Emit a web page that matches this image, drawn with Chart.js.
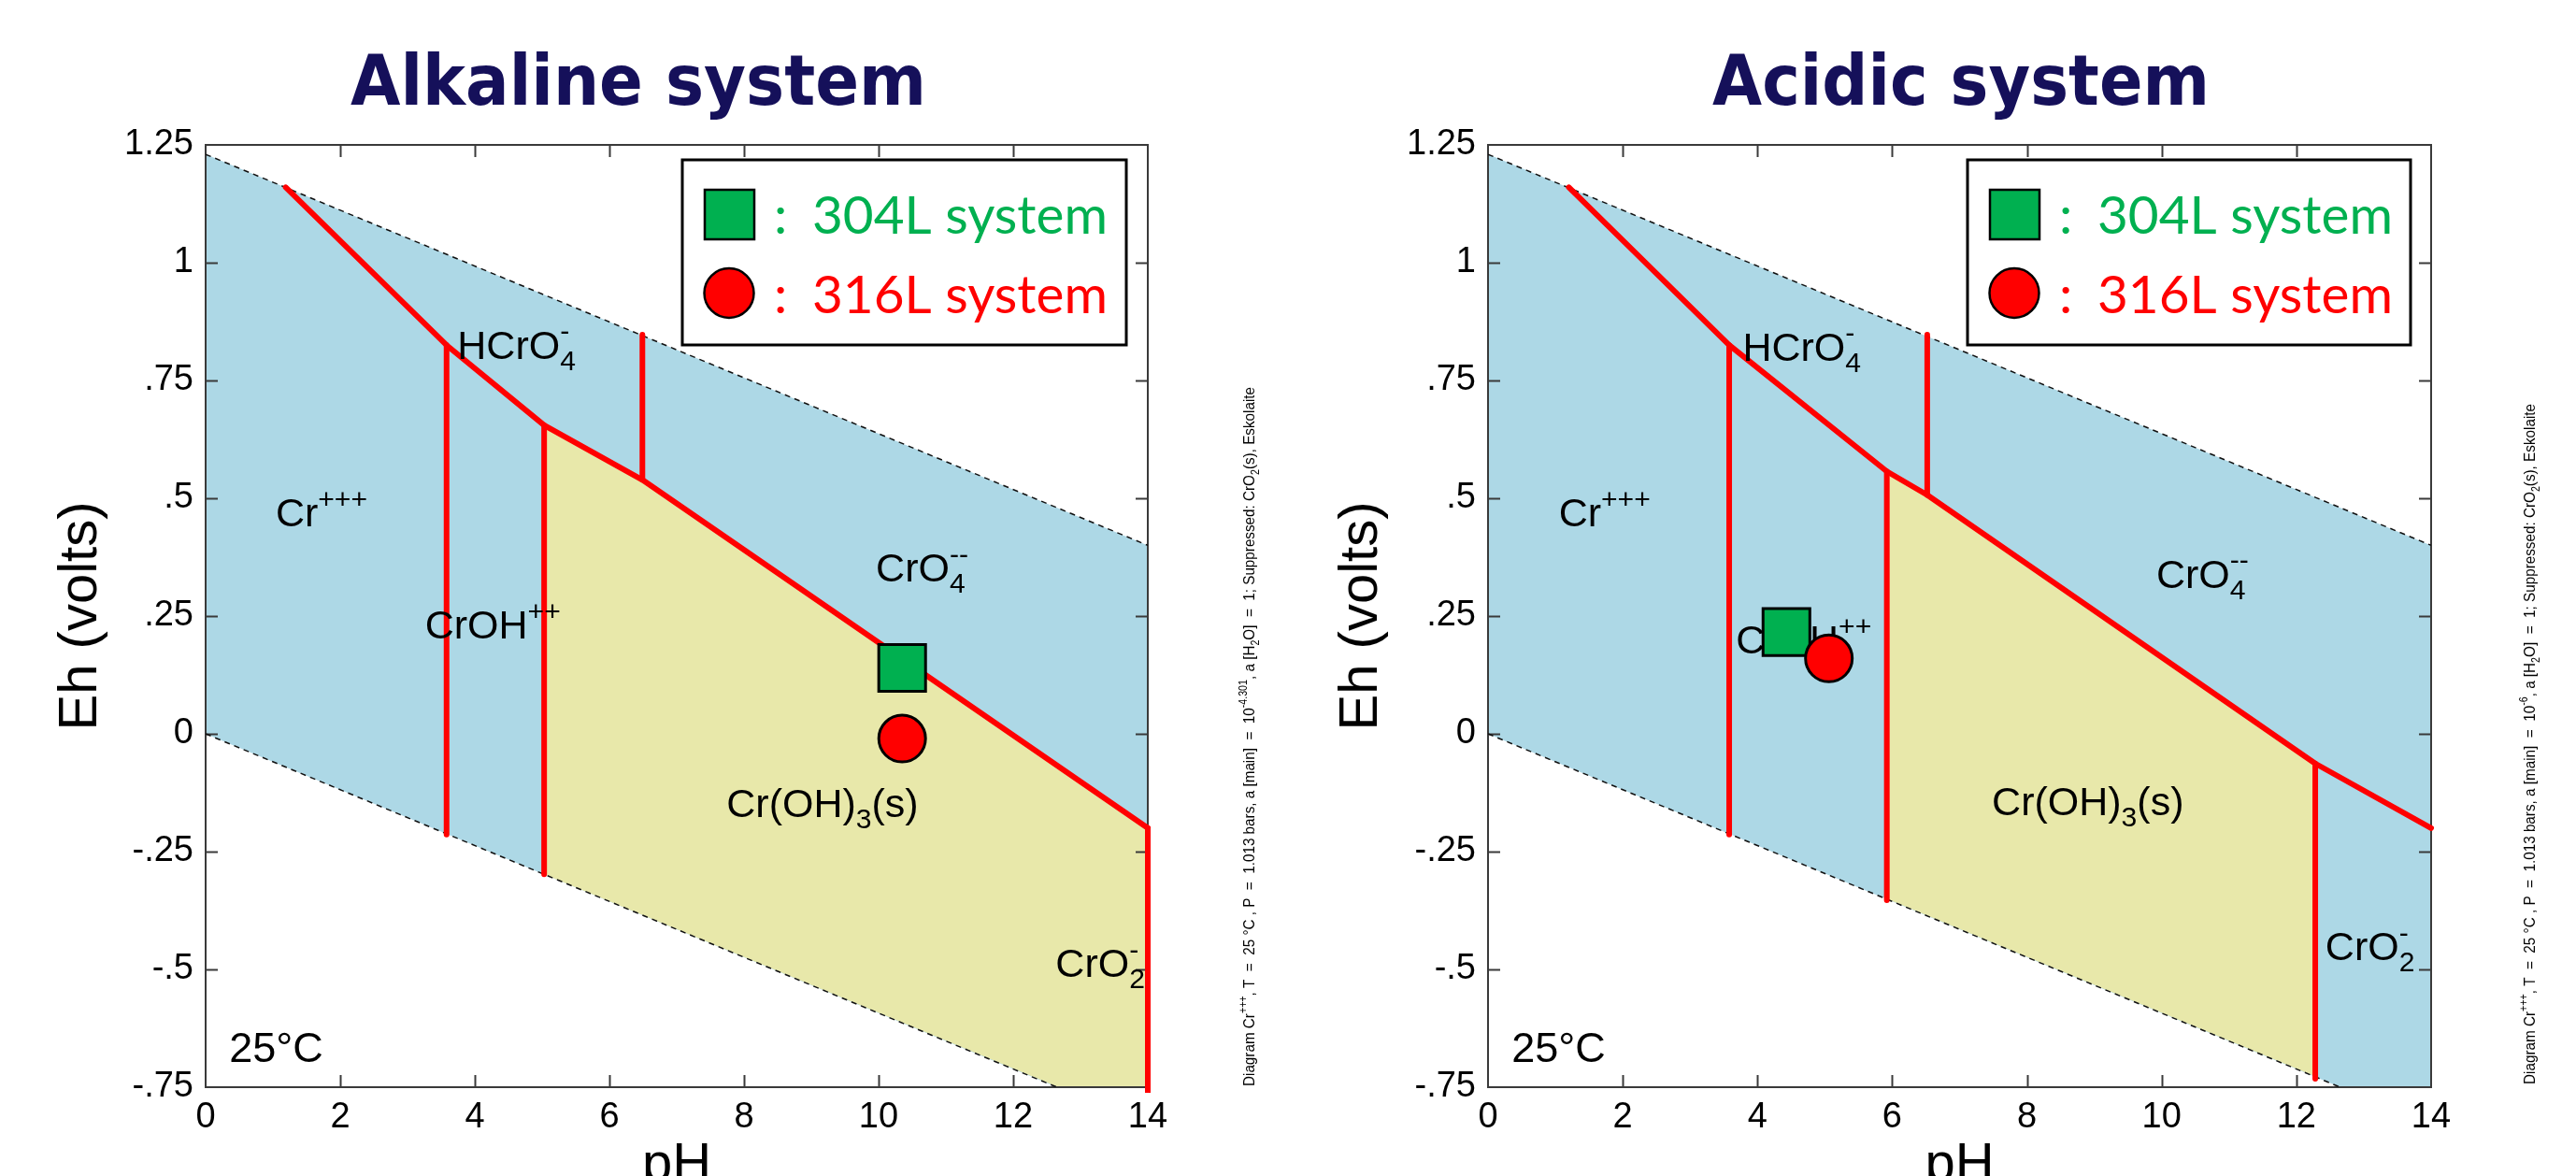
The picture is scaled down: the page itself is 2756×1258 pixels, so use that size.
<!DOCTYPE html>
<html>
<head>
<meta charset="utf-8">
<title>Cr Eh-pH diagrams</title>
<script src="https://cdn.jsdelivr.net/npm/chart.js@4.4.0/dist/chart.umd.min.js"></script>
<style>
  html, body { margin: 0; padding: 0; background: #fff; }
  .panel { position: absolute; top: 0; width: 1378px; height: 1258px; }
  #left { left: 0; }
  #right { left: 1378px; }
</style>
</head>
<body>
<div class="panel" id="left"><canvas id="alkChart"></canvas></div>
<div class="panel" id="right"><canvas id="acidChart"></canvas></div>
<script>
// axes
const phTicks = [0, 2, 4, 6, 8, 10, 12, 14];
const ehTicks = [-0.75, -0.5, -0.25, 0, 0.25, 0.5, 0.75, 1, 1.25];
const ehTickLabels = ['-.75', '-.5', '-.25', '0', '.25', '.5', '.75', '1', '1.25'];

// water stability limits (dashed lines)
const waterPH = [0, 14];
const waterUpperEh = [1.23, 0.40];
const waterLowerEh = [0, -0.83];

// species names: HCrO4-, Cr+++, CrO4--, CrOH++, Cr(OH)3(s), CrO2-
const speciesParts = [
  ['HCrO', {sub: '4', sup: '-'}],
  ['Cr', {sup: '+++'}],
  ['CrO', {sub: '4', sup: '--'}],
  ['CrOH', {sup: '++'}],
  ['Cr(OH)', {sub: '3'}, '(s)'],
  ['CrO', {sub: '2', sup: '-'}]
];

// ---- Alkaline system ----
const alkMainPH = [1.19, 3.58, 5.03, 6.49, 14];
const alkMainEh = [1.16, 0.825, 0.655, 0.539, -0.20];
const alkVertPH = [3.58, 5.03, 6.49, 14];
const alkVertTop = [0.825, 0.655, 0.847, -0.20];
const alkVertBottom = [-0.214, -0.298, 0.539, -0.765];
const alkSolidPH = [5.03, 6.49, 14, 14, 12.67, 5.03];
const alkSolidEh = [0.655, 0.539, -0.20, -0.75, -0.75, -0.298];
const alkSamplePH = [10.35, 10.35];     // 304L, 316L
const alkSampleEh = [0.14, -0.01];
const alkLabelPH = [3.74, 1.04, 9.96, 3.26, 7.74, 12.63];
const alkLabelEh = [0.796, 0.44, 0.323, 0.202, -0.177, -0.516];
const alkNote = ['Diagram Cr', {sup: '+++'}, ', T  =  25 °C , P  =  1.013 bars, a [main]  =  10', {sup: '-4.301'},
  ', a [H', {sub: '2'}, 'O]  =  1; Suppressed: CrO', {sub: '2'}, '(s), Eskolaite'];

// ---- Acidic system ----
const acidMainPH = [1.20, 3.58, 5.92, 6.52, 12.28, 14];
const acidMainEh = [1.16, 0.825, 0.557, 0.507, -0.063, -0.20];
const acidVertPH = [3.58, 5.92, 6.52, 12.28];
const acidVertTop = [0.825, 0.557, 0.847, -0.063];
const acidVertBottom = [-0.214, -0.353, 0.507, -0.732];
const acidSolidPH = [5.92, 6.52, 12.28, 12.28, 5.92];
const acidSolidEh = [0.557, 0.507, -0.063, -0.727, -0.350];
const acidSamplePH = [4.43, 5.06];
const acidSampleEh = [0.216, 0.160];
const acidLabelPH = [3.78, 1.05, 9.92, 3.68, 7.48, 12.43];
const acidLabelEh = [0.792, 0.44, 0.31, 0.17, -0.173, -0.48];
const acidNote = ['Diagram Cr', {sup: '+++'}, ', T  =  25 °C , P  =  1.013 bars, a [main]  =  10', {sup: '-6'},
  ', a [H', {sub: '2'}, 'O]  =  1; Suppressed: CrO', {sub: '2'}, '(s), Eskolaite'];

const tempPH = 0.35, tempEh = -0.696;   // "25°C" note

const FONT = "'Liberation Sans', Arial, sans-serif";
const RED = '#ff0000', GREEN = '#00b050', BLUE = '#add8e6', YELLOW = '#e8e8aa';

Chart.defaults.font.family = FONT;

// draws text with sub/superscripts, returns the width
function drawRich(ctx, parts, x, y, size, dry) {
  let cx = x;
  const small = size * 0.7;
  parts.forEach(p => {
    if (typeof p === 'string') {
      ctx.font = size + 'px ' + FONT;
      if (!dry) ctx.fillText(p, cx, y);
      cx += ctx.measureText(p).width;
    } else {
      ctx.font = small + 'px ' + FONT;
      let w = 0;
      if (p.sup) {
        if (!dry) ctx.fillText(p.sup, cx, y - size * 0.45);
        w = Math.max(w, ctx.measureText(p.sup).width);
      }
      if (p.sub) {
        if (!dry) ctx.fillText(p.sub, cx, y + size * 0.28);
        w = Math.max(w, ctx.measureText(p.sub).width);
      }
      cx += w;
    }
  });
  return cx - x;
}

// text squeezed/stretched to a given width
function fitText(ctx, text, x, y, width) {
  const w = ctx.measureText(text).width;
  ctx.save();
  ctx.translate(x, y);
  ctx.scale(width / w, 1);
  ctx.fillText(text, 0, 0);
  ctx.restore();
}

function drawFrame(chart) {
  // frame with inward ticks
  const {ctx, chartArea: a, scales: {x, y}} = chart;
  const tl = 13;
  ctx.save();
  ctx.strokeStyle = '#3a3a3a';
  ctx.lineWidth = 2;
  ctx.strokeRect(a.left, a.top, a.right - a.left, a.bottom - a.top);
  ctx.beginPath();
  phTicks.slice(1, -1).forEach(v => {
    const px = Math.round(x.getPixelForValue(v)) + 0.5;
    ctx.moveTo(px, a.top); ctx.lineTo(px, a.top + tl);
    ctx.moveTo(px, a.bottom); ctx.lineTo(px, a.bottom - tl);
  });
  ehTicks.slice(1, -1).forEach(v => {
    const py = Math.round(y.getPixelForValue(v)) + 0.5;
    ctx.moveTo(a.left, py); ctx.lineTo(a.left + tl, py);
    ctx.moveTo(a.right, py); ctx.lineTo(a.right - tl, py);
  });
  ctx.stroke();
  ctx.restore();
}

function makeDecor(d) {
  return {
    id: 'decor',
    beforeDatasetDraw(chart, args) {
      const tag = chart.data.datasets[args.index].id;
      if (tag === 'water') drawFrame(chart);
      // species names go under the sample markers
      if (tag !== 'sq') return;
      const {ctx, scales: {x, y}} = chart;
      ctx.save();
      ctx.fillStyle = '#000';
      ctx.textAlign = 'left';
      ctx.textBaseline = 'alphabetic';
      speciesParts.forEach((parts, i) => {
        drawRich(ctx, parts, x.getPixelForValue(d.labelPH[i]), y.getPixelForValue(d.labelEh[i]), 43);
      });
      ctx.font = '45px ' + FONT;
      ctx.fillText('25°C', x.getPixelForValue(tempPH), y.getPixelForValue(tempEh));
      ctx.restore();
    },
    afterDraw(chart) {
      const {ctx, chartArea: a} = chart;
      ctx.save();
      ctx.textBaseline = 'alphabetic';

      // panel title
      ctx.fillStyle = '#15105a';
      ctx.textAlign = 'center';
      ctx.font = 'bold 75px "DejaVu Sans", sans-serif';
      ctx.fillText(d.title, d.titleX, 112, d.titleW);

      // axis titles
      ctx.fillStyle = '#000';
      ctx.font = '58px ' + FONT;
      ctx.fillText('pH', (a.left + a.right) / 2, 1263);
      ctx.save();
      ctx.translate(d.ehX, (a.top + a.bottom) / 2);
      ctx.rotate(-Math.PI / 2);
      ctx.fillText('Eh (volts)', 0, 0);
      ctx.restore();

      // legend box
      const L = d.legend;
      ctx.fillStyle = '#fff';
      ctx.fillRect(L.x, L.y, L.w, L.h);
      ctx.strokeStyle = '#000';
      ctx.lineWidth = 3;
      ctx.strokeRect(L.x, L.y, L.w, L.h);
      ctx.lineWidth = 2.5;
      ctx.fillStyle = GREEN;
      ctx.fillRect(L.x + 24, 203, 53, 53);
      ctx.strokeRect(L.x + 24, 203, 53, 53);
      ctx.beginPath();
      ctx.arc(L.x + 50, 313.5, 26.5, 0, Math.PI * 2);
      ctx.fillStyle = RED;
      ctx.fill();
      ctx.stroke();
      ctx.textAlign = 'left';
      ctx.font = '57px Lato, "Open Sans", sans-serif';
      ctx.fillStyle = GREEN;
      ctx.fillText(':', L.x + 98, 250);
      fitText(ctx, '304L system', L.x + 139, 250, 316);
      ctx.fillStyle = RED;
      ctx.fillText(':', L.x + 98, 335);
      fitText(ctx, '316L system', L.x + 139, 335, 316);

      // calculation note, rotated
      ctx.fillStyle = '#000';
      ctx.save();
      ctx.translate(d.noteX, d.noteBottom);
      ctx.rotate(-Math.PI / 2);
      const w = drawRich(ctx, d.note, 0, 0, 17, true);
      ctx.scale(d.noteLen / w, 1);
      drawRich(ctx, d.note, 0, 0, 17);
      ctx.restore();

      ctx.restore();
    }
  };
}

function pts(xs, ys) {
  return xs.map((x, i) => ({x: x, y: ys[i]}));
}

function buildChart(canvasId, d) {
  const redLine = {borderColor: RED, borderWidth: 6, borderCapStyle: 'round', borderJoinStyle: 'round', clip: 6, order: 2};
  const datasets = [
    {label: '316L system', data: [{x: d.samplePH[1], y: d.sampleEh[1]}], showLine: false,
     pointStyle: 'circle', pointRadius: 25, backgroundColor: RED, borderColor: '#000', borderWidth: 3, order: 0},
    {label: '304L system', id: 'sq', data: [{x: d.samplePH[0], y: d.sampleEh[0]}], showLine: false,
     pointStyle: 'rect', pointRadius: 35.4, backgroundColor: GREEN, borderColor: '#000', borderWidth: 3, order: 1},
    Object.assign({label: 'boundary', data: pts(d.mainPH, d.mainEh)}, redLine)
  ];
  d.vertPH.forEach((ph, i) => {
    datasets.push(Object.assign({label: 'boundary', data: [{x: ph, y: d.vertTop[i]}, {x: ph, y: d.vertBottom[i]}]}, redLine));
  });
  datasets.push(
    {label: 'O2/H2O', data: pts(waterPH, waterUpperEh), borderColor: '#111', borderWidth: 1.5, borderDash: [6, 5], order: 3},
    {label: 'H2O/H2', id: 'water', data: pts(waterPH, waterLowerEh), borderColor: '#111', borderWidth: 1.5, borderDash: [6, 5], order: 3},
    {label: 'Cr(OH)3(s)', data: pts(d.solidPH, d.solidEh), borderWidth: 0, borderColor: YELLOW,
     backgroundColor: YELLOW, fill: 'shape', order: 4},
    {label: 'aqueous', data: pts(waterPH, waterUpperEh).concat(pts(waterPH, waterLowerEh).reverse()),
     borderWidth: 0, borderColor: BLUE, backgroundColor: BLUE, fill: 'shape', order: 5}
  );

  return new Chart(document.getElementById(canvasId), {
    type: 'line',
    data: {datasets: datasets},
    options: {
      responsive: true,
      maintainAspectRatio: false,
      animation: false,
      events: [],
      elements: {point: {radius: 0}, line: {tension: 0}},
      layout: {padding: {left: 0, top: 155, right: d.padRight, bottom: 0}},
      scales: {
        x: {
          type: 'linear', min: 0, max: 14,
          afterBuildTicks: s => { s.ticks = phTicks.map(v => ({value: v})); },
          afterFit: s => { s.height = 95; },
          grid: {display: false, drawTicks: false},
          border: {display: false},
          ticks: {color: '#000', font: {size: 38}, padding: 10, maxRotation: 0, autoSkip: false}
        },
        y: {
          type: 'linear', min: -0.75, max: 1.25,
          afterBuildTicks: s => { s.ticks = ehTicks.map(v => ({value: v})); },
          afterFit: s => { s.width = d.axisW; },
          grid: {display: false, drawTicks: false},
          border: {display: false},
          ticks: {
            color: '#000', font: {size: 38}, padding: 13, autoSkip: false,
            callback: v => ehTickLabels[ehTicks.findIndex(t => Math.abs(t - v) < 1e-6)]
          }
        }
      },
      plugins: {legend: {display: false}, tooltip: {enabled: false}, title: {display: false}}
    },
    plugins: [makeDecor(d)]
  });
}

buildChart('alkChart', {
  title: 'Alkaline system', titleX: 683, titleW: 616,
  mainPH: alkMainPH, mainEh: alkMainEh,
  vertPH: alkVertPH, vertTop: alkVertTop, vertBottom: alkVertBottom,
  solidPH: alkSolidPH, solidEh: alkSolidEh,
  samplePH: alkSamplePH, sampleEh: alkSampleEh,
  labelPH: alkLabelPH, labelEh: alkLabelEh,
  note: alkNote, noteX: 1342, noteBottom: 1162, noteLen: 748,
  legend: {x: 730, y: 171, w: 475, h: 198},
  axisW: 220, padRight: 150, ehX: 103
});

buildChart('acidChart', {
  title: 'Acidic system', titleX: 720, titleW: 532,
  mainPH: acidMainPH, mainEh: acidMainEh,
  vertPH: acidVertPH, vertTop: acidVertTop, vertBottom: acidVertBottom,
  solidPH: acidSolidPH, solidEh: acidSolidEh,
  samplePH: acidSamplePH, sampleEh: acidSampleEh,
  labelPH: acidLabelPH, labelEh: acidLabelEh,
  note: acidNote, noteX: 1334, noteBottom: 1160, noteLen: 728,
  legend: {x: 727, y: 171, w: 474, h: 198},
  axisW: 214, padRight: 155, ehX: 95
});
</script>
</body>
</html>
